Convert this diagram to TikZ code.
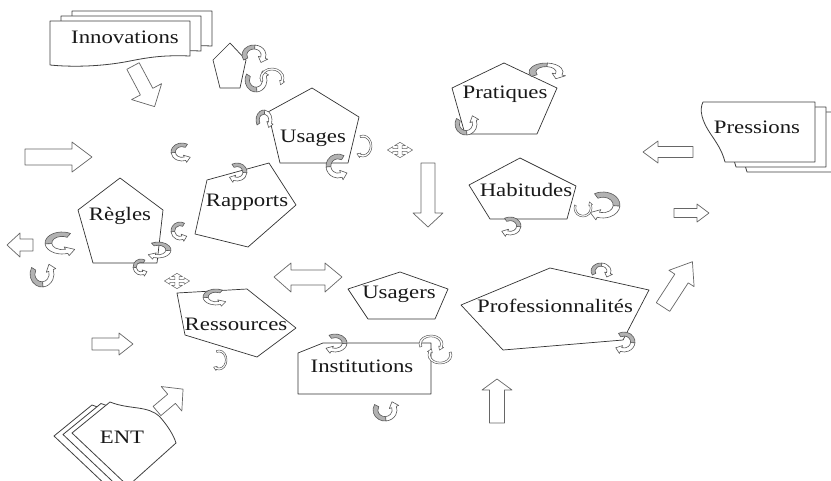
\documentclass[tikz,border=0pt]{standalone}
\usepackage{fontspec}
\setmainfont[FakeStretch=1.2]{Liberation Serif}
\usetikzlibrary{calc}

\begin{document}
\begin{tikzpicture}[x=1pt,y=1pt,line join=round,
  lbl/.style={font=\fontsize{19}{22}\selectfont,text=black!90,inner sep=1pt},
  polyg/.style={draw=black!80,fill=white,line width=.7pt},
  page/.style={draw=black!75,fill=white,line width=.8pt},
  arrowline/.style={draw=black!60,fill=white,line width=.7pt},
  curl/.pic={
    \filldraw[fill=black!30,draw=black!65,line width=.6pt] (60:1) arc[start angle=60,end angle=185,radius=1]
      -- (185:.6) arc[start angle=185,end angle=60,radius=.6] -- cycle;
    \filldraw[fill=white,draw=black!65,line width=.6pt] (185:1) arc[start angle=185,end angle=290,radius=1]
      -- (290:1.22) -- (.75,-.58) -- (290:.38) -- (290:.6) arc[start angle=290,end angle=185,radius=.6] -- cycle;},
  thincurl/.pic={
    \filldraw[fill=white,draw=black!65,line width=.5pt] (70:1) arc[start angle=70,end angle=290,radius=1]
      -- (290:1.12) -- (.68,-.71) -- (290:.68) -- (290:.8) arc[start angle=290,end angle=70,radius=.8] -- cycle;},
  cross4/.pic={
    \draw[arrowline,line width=.5pt] (1.2,1.2)--(4,1.2)--(4,3)--(7,0)--(4,-3)--(4,-1.2)--(1.2,-1.2)--(1.2,-4)--(3,-4)--(0,-7)
      --(-3,-4)--(-1.2,-4)--(-1.2,-1.2)--(-4,-1.2)--(-4,-3)--(-7,0)--(-4,3)--(-4,1.2)--(-1.2,1.2)--(-1.2,4)--(-3,4)
      --(0,7)--(3,4)--(1.2,4)--cycle;},
  pics/barrow/.style n args={4}{code={
    \draw[arrowline] (0,-#2)--(#1-#4,-#2)--(#1-#4,-#3)--(#1,0)--(#1-#4,#3)--(#1-#4,#2)--(0,#2)--cycle;}}]
\path[use as bounding box] (0,0) rectangle (831,-480);
\clip (0,0) rectangle (831,-480);
\fill[white] (0,0) rectangle (831,-480);
% pages
\foreach \s in {2,1,0}
  \draw[page,shift={(11*\s,5*\s)}] (50,-21) -- (190,-21) -- (190,-56) .. controls (165,-55) and (150,-57) .. (130,-61)
    .. controls (100,-67) and (70,-67) .. (50,-65) -- cycle;
\foreach \s in {2,1,0}
  \draw[page,shift={(11*\s,-5*\s)}] (703,-102) -- (815,-102) -- (815,-162) -- (725,-162) .. controls (722,-150) and (716,-142) .. (710,-133)
    .. controls (702,-121) and (699,-110) .. (703,-102) -- cycle;
\foreach \s in {2,1,0}
  \draw[page,shift={(-9*\s,-1.5*\s)}] (110,-402) .. controls (130,-410) and (148,-405) .. (160,-417)
    .. controls (168,-426) and (174,-436) .. (176,-443) -- (128,-486) -- (72,-433) -- cycle;
% pentagons
\draw[polyg] (230,-43) -- (246,-60) -- (240,-88) -- (220,-88) -- (213,-60) -- cycle;
\draw[polyg] (312,-88) -- (359,-117) -- (348,-163) -- (280,-163) -- (268,-112) -- cycle;
\draw[polyg] (504,-63) -- (557,-88) -- (537,-134) -- (465,-134) -- (452,-88) -- cycle;
\draw[polyg] (520,-158) -- (576,-186) -- (567,-219) -- (490,-219) -- (469,-185) -- cycle;
\draw[polyg] (120,-178) -- (163,-210) -- (157,-263) -- (93,-263) -- (78,-210) -- cycle;
\draw[polyg] (207,-180) -- (269,-163) -- (296,-205) -- (248,-247) -- (195,-234) -- cycle;
\draw[polyg] (400,-272) -- (448,-289) -- (435,-319) -- (368,-319) -- (348,-289) -- cycle;
\draw[polyg] (177,-293) -- (247,-289) -- (296,-328) -- (257,-357) -- (185,-335) -- cycle;
\draw[polyg] (298,-353) -- (323,-343) -- (431,-343) -- (431,-394) -- (298,-394) -- cycle;
\draw[polyg] (461,-305) -- (550,-268) -- (649,-290) -- (623,-340) -- (503,-350) -- cycle;
% labels
\node[lbl] (innov) at (125,-37) {Innovations};
\node[lbl] (press) at (757,-127) {Pressions};
\node[lbl] (ent) at (122,-437) {ENT};
\node[lbl] (usages) at (313,-138) {Usages};
\node[lbl] (prat) at (505,-94) {Pratiques};
\node[lbl] (habit) at (526,-190) {Habitudes};
\node[lbl] (regles) at (120,-216) {Règles};
\node[lbl] (rapp) at (247,-202) {Rapports};
\node[lbl] (usagers) at (399,-294) {Usagers};
\node[lbl] (ress) at (236,-324) {Ressources};
\node[lbl] (instit) at (362,-366) {Institutions};
\node[lbl] (prof) at (555,-306) {Professionnalités};
% block arrows
\pic[rotate=-62] at (133,-66) {barrow={46}{7}{17}{17}};
\pic at (25,-157) {barrow={67}{8}{15}{20}};
\pic[rotate=180] at (33,-245) {barrow={26}{6}{12}{13}};
\pic at (92,-344) {barrow={41}{6}{11}{14}};
\pic[rotate=40] at (157,-411) {barrow={34}{6}{16}{15}};
\pic[rotate=-90] at (428,-163) {barrow={64}{7}{15}{14}};
\pic[rotate=180] at (693,-152) {barrow={50}{5.5}{11}{15}};
\pic at (674,-213) {barrow={35}{4.5}{9}{12}};
\pic[rotate=57] at (663,-307) {barrow={54}{8}{15}{20}};
\pic[rotate=90] at (497,-423) {barrow={44}{7.5}{15}{11}};
\draw[arrowline] (274,-277) -- (291,-263) -- (291,-270) -- (325,-270) -- (325,-263) -- (342,-277)
  -- (325,-292) -- (325,-285) -- (291,-285) -- (291,-292) -- cycle;
\pic[xscale=1.8,yscale=1.1] at (400,-150) {cross4};
\pic[xscale=1.8,yscale=1.1] at (177,-281) {cross4};
% curls
\pic[xscale=11,yscale=9] at (182,-152) {curl};
\pic[scale=9] at (180,-231) {curl};
\pic[xscale=-10,yscale=9] at (237,-172) {curl};
\pic[xscale=17,yscale=11] at (62,-243) {curl};
\pic[xscale=12,yscale=13,rotate=90] at (42,-274) {curl};
\pic[xscale=-13,yscale=8] at (158,-250) {curl};
\pic[scale=8] at (141,-267) {curl};
\pic[xscale=12,yscale=10,rotate=90,xscale=-1] at (254,-55) {curl};
\pic[xscale=11,yscale=12,rotate=90] at (256,-80) {curl};
\pic[xscale=12,yscale=10,rotate=90,xscale=-1] at (272,-78) {thincurl};
\pic[xscale=8,yscale=10,rotate=90,xscale=-1] at (264,-120) {curl};
\pic[xscale=-9,yscale=11] at (363,-146) {thincurl};
\pic[scale=12] at (338,-166) {curl};
\pic[xscale=17,yscale=9,rotate=90,xscale=-1] at (546,-72) {curl};
\pic[scale=11,rotate=90] at (466,-124) {curl};
\pic[xscale=-17,yscale=13] at (603,-205) {curl};
\pic[scale=9,rotate=90] at (583,-208) {thincurl};
\pic[xscale=-11,yscale=9] at (510,-226) {curl};
\pic[xscale=13,yscale=8] at (216,-297) {curl};
\pic[xscale=-8,yscale=10] at (219,-360) {thincurl};
\pic[xscale=-12,yscale=9] at (335,-343) {curl};
\pic[xscale=12,yscale=9,rotate=90,xscale=-1] at (431,-344) {thincurl};
\pic[xscale=12,yscale=9,rotate=-90,xscale=-1] at (440,-355) {thincurl};
\pic[xscale=12,yscale=11,rotate=90] at (385,-410) {curl};
\pic[xscale=10,yscale=8,rotate=90,xscale=-1] at (601,-271) {curl};
\pic[xscale=-11,yscale=10] at (624,-342) {curl};
\end{tikzpicture}
\end{document}
